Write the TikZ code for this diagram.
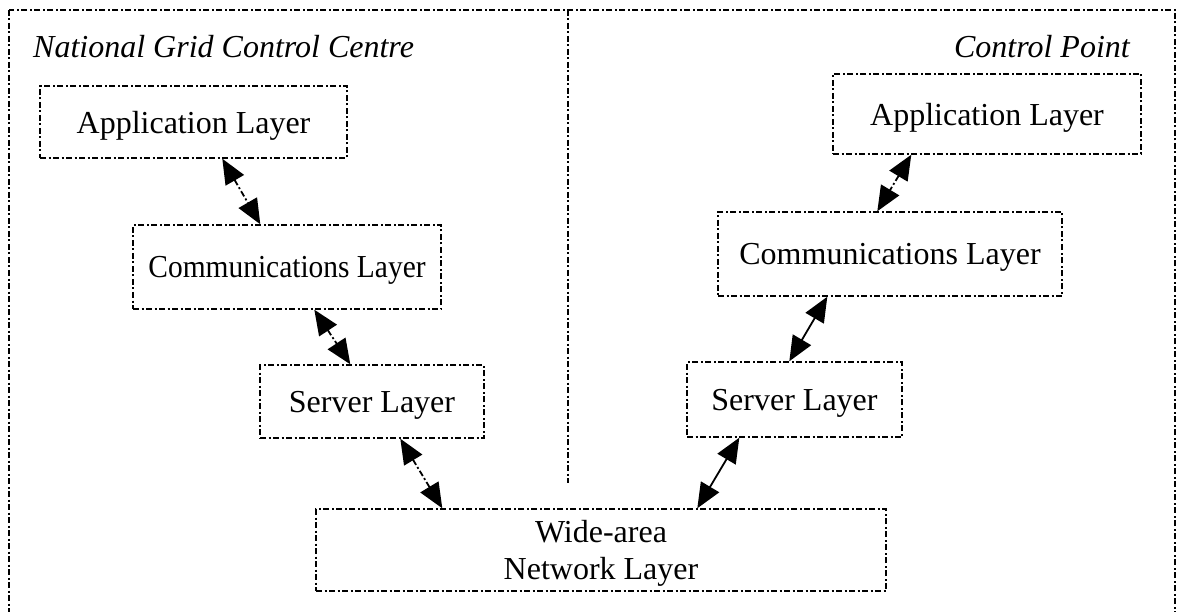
\documentclass[tikz,border=0pt]{standalone}
\usepackage{fontspec}
\usepackage{graphicx}
\setmainfont{Liberation Serif}
\usetikzlibrary{arrows.meta,calc}
\tikzset{
  dd/.style={dash pattern=on 6pt off 2.5pt on 2pt off 2.5pt},
  layer/.style={draw, dd, line width=1.4pt, align=center, inner sep=0pt,
    font=\fontsize{32}{37}\selectfont, text depth=-3pt},
  frame/.style={draw, dd, line width=1.8pt},
  title/.style={font=\fontsize{32}{37}\selectfont\itshape, inner sep=0pt},
  link/.style={line width=1.8pt, {Triangle[length=25pt,width=21pt]}-{Triangle[length=25pt,width=21pt]}},
}
\begin{document}
\begin{tikzpicture}[x=1pt,y=-1pt]
\useasboundingbox (0,0) rectangle (1177,612);
\clip (0,0) rectangle (1177,612);
\draw[frame] (9,10) rectangle (1175,660);
\coordinate (dtop) at (568,10);
\coordinate (dbot) at (568,483);
\draw[frame] (dtop) -- (dbot);

\node[title, anchor=west] (ngt) at (33,47) {National Grid Control Centre};
\node[title, anchor=east] (cpt) at (1130,47) {Control Point};

\node[layer, minimum width=307pt, minimum height=72pt] (ngapp) at (193.5,122) {Application Layer};
\node[layer, minimum width=308pt, minimum height=84pt] (ngcom) at (287,267) {\scalebox{0.92}[1]{Communications Layer}};
\node[layer, minimum width=224pt, minimum height=73pt] (ngsrv) at (372,401.5) {Server Layer};
\node[layer, minimum width=570pt, minimum height=82pt] (wan) at (601,550) {Wide-area\\Network Layer};
\node[layer, minimum width=308pt, minimum height=80pt] (cpapp) at (987,114) {Application Layer};
\node[layer, minimum width=344pt, minimum height=84pt] (cpcom) at (890,254) {Communications Layer};
\node[layer, minimum width=215pt, minimum height=75pt] (cpsrv) at (794.5,399.5) {Server Layer};

\draw[link, dd] ($(ngapp.south west)+(183,0)$) -- ($(ngcom.north west)+(128,0)$);
\draw[link, dd] ($(ngcom.south west)+(182,0)$) -- ($(ngsrv.north west)+(91,0)$);
\draw[link, dd] ($(ngsrv.south west)+(141,0)$) -- ($(wan.north west)+(127,0)$);
\draw[link] ($(cpsrv.south west)+(53,0)$) -- ($(wan.north west)+(382,0)$);
\draw[link] ($(cpcom.south west)+(110,0)$) -- ($(cpsrv.north west)+(103,0)$);
\draw[link, dd] ($(cpapp.south west)+(79,0)$) -- ($(cpcom.north west)+(160,0)$);
\end{tikzpicture}
\end{document}
